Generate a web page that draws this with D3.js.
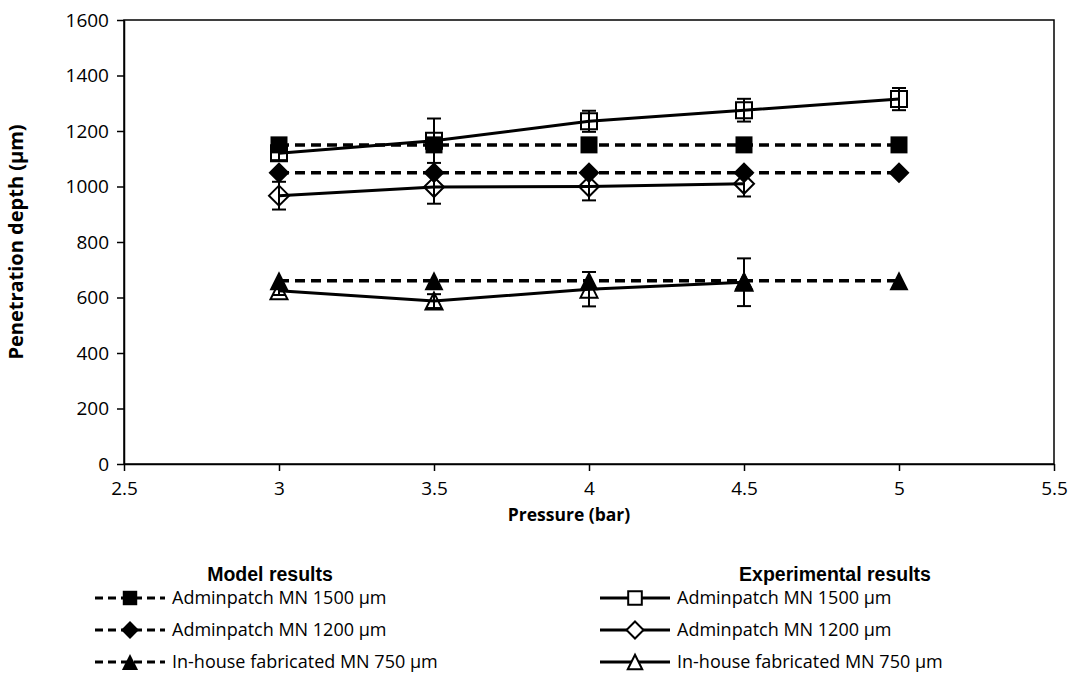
<!DOCTYPE html>
<html>
<head>
<meta charset="utf-8">
<script src="https://cdn.jsdelivr.net/npm/d3@7"></script>
<style>
  body { margin: 0; background: #fff; }
  text { font-family: "Open Sans", "Liberation Sans", sans-serif; fill: #000; }
</style>
</head>
<body>
<script>
// pressure values (bar)
var pressure = [3, 3.5, 4, 4.5, 5];

// model predictions (µm)
var model1500 = [1150, 1150, 1150, 1150, 1150];
var model1200 = [1050, 1050, 1050, 1050, 1050];
var model750 = [660, 660, 660, 660, 660];

// experimental means and error (µm)
var exp1500 = [1120, 1165, 1235, 1275, 1315];
var err1500 = [25, 80, 38, 41, 40];
var exp1200 = [967, 998, 1000, 1010];
var err1200 = [50, 60, 50, 46];
var exp750 = [624, 587, 630, 655];
var err750 = [15, 25, 62, 86];

var xTicks = [2.5, 3, 3.5, 4, 4.5, 5, 5.5];
var yTicks = [0, 200, 400, 600, 800, 1000, 1200, 1400, 1600];

var legendNames = ["Adminpatch MN 1500 µm", "Adminpatch MN 1200 µm", "In-house fabricated MN 750 µm"];

function main() {
  var W = 1072, H = 677;
  var left = 124, right = 1054, top = 20, bottom = 464;

  var svg = d3.select("body").append("svg")
    .attr("width", W).attr("height", H);

  var xScale = d3.scaleLinear().domain([2.5, 5.5]).range([left, right]);
  var yScale = d3.scaleLinear().domain([0, 1600]).range([bottom, top]);

  // marker shapes
  function square(s) { var h = s / 2; return "M" + -h + "," + -h + "H" + h + "V" + h + "H" + -h + "Z"; }
  function diamond(s) { var h = s / 2; return "M0," + -h + "L" + h + ",0L0," + h + "L" + -h + ",0Z"; }
  function triangle(s) { var h = s / 2; return "M0," + -h + "L" + h + "," + h + "H" + -h + "Z"; }

  // plot frame
  svg.append("rect")
    .attr("x", left).attr("y", top)
    .attr("width", right - left).attr("height", bottom - top)
    .attr("fill", "none").attr("stroke", "#000").attr("stroke-width", 1.5);

  // axes
  var yAxis = svg.append("g")
    .attr("transform", "translate(" + left + ",0)")
    .call(d3.axisLeft(yScale).tickValues(yTicks).tickSize(7).tickSizeOuter(0).tickPadding(8)
      .tickFormat(d3.format("d")));
  var xAxis = svg.append("g")
    .attr("transform", "translate(0," + bottom + ")")
    .call(d3.axisBottom(xScale).tickValues(xTicks).tickSize(7).tickSizeOuter(0).tickPadding(8)
      .tickFormat(function(d) { return String(d); }));
  [xAxis, yAxis].forEach(function(g) {
    g.selectAll("path, line").attr("stroke", "#000").attr("stroke-width", 1.5);
    g.selectAll("text")
      .style("font-family", "'Open Sans'")
      .style("font-size", "19px")
      .attr("fill", "#000");
  });
  xAxis.selectAll("text").attr("dy", "0.85em");

  // axis titles
  svg.append("text")
    .attr("transform", "translate(23," + ((top + bottom) / 2) + ") rotate(-90)")
    .attr("text-anchor", "middle")
    .style("font-size", "20px").attr("font-weight", "bold")
    .text("Penetration depth (µm)");
  svg.append("text")
    .attr("x", 569).attr("y", 521)
    .attr("text-anchor", "middle")
    .style("font-size", "17.5px").attr("font-weight", "bold")
    .text("Pressure (bar)");

  var line = d3.line()
    .x(function(d) { return xScale(d[0]); })
    .y(function(d) { return yScale(d[1]); });

  var modelSeries = [
    { vals: model1500, shape: square, size: 17 },
    { vals: model1200, shape: diamond, size: 21 },
    { vals: model750, shape: triangle, size: 19 }
  ];
  var expSeries = [
    { vals: exp1500, err: err1500, shape: square, size: 16 },
    { vals: exp1200, err: err1200, shape: diamond, size: 20 },
    { vals: exp750, err: err750, shape: triangle, size: 17 }
  ];

  // experimental: solid lines, open markers
  expSeries.forEach(function(s) {
    var pts = s.vals.map(function(v, i) { return [pressure[i], v, s.err[i]]; });
    svg.append("path").datum(pts)
      .attr("d", line).attr("fill", "none")
      .attr("stroke", "#000").attr("stroke-width", 3);
    svg.selectAll(null).data(pts).enter().append("path")
      .attr("transform", function(d) { return "translate(" + xScale(d[0]) + "," + yScale(d[1]) + ")"; })
      .attr("d", s.shape(s.size))
      .attr("fill", "none").attr("stroke", "#000").attr("stroke-width", 2);
  });

  // model: dashed lines, filled markers
  modelSeries.forEach(function(s) {
    var pts = s.vals.map(function(v, i) { return [pressure[i], v]; });
    svg.append("path").datum(pts)
      .attr("d", line).attr("fill", "none")
      .attr("stroke", "#000").attr("stroke-width", 3.5)
      .attr("stroke-dasharray", "10,6");
    svg.selectAll(null).data(pts).enter().append("path")
      .attr("transform", function(d) { return "translate(" + xScale(d[0]) + "," + yScale(d[1]) + ")"; })
      .attr("d", s.shape(s.size))
      .attr("fill", "#000");
  });

  // error bars on top
  expSeries.forEach(function(s) {
    var pts = s.vals.map(function(v, i) { return [pressure[i], v, s.err[i]]; });
    var g = svg.append("g").attr("stroke", "#000").attr("stroke-width", 2);
    pts.forEach(function(d) {
      var cx = xScale(d[0]);
      var y1 = yScale(d[1] + d[2]), y2 = yScale(d[1] - d[2]);
      g.append("line").attr("x1", cx).attr("x2", cx).attr("y1", y1).attr("y2", y2);
      g.append("line").attr("x1", cx - 7).attr("x2", cx + 7).attr("y1", y1).attr("y2", y1);
      g.append("line").attr("x1", cx - 7).attr("x2", cx + 7).attr("y1", y2).attr("y2", y2);
    });
  });

  // legend
  var legendRows = [598, 630, 662];
  var headers = [{ x: 270, text: "Model results" }, { x: 835, text: "Experimental results" }];
  headers.forEach(function(h) {
    svg.append("text")
      .attr("x", h.x).attr("y", 581)
      .attr("text-anchor", "middle")
      .style("font-family", "'Liberation Sans'")
      .style("font-size", "19.5px").attr("font-weight", "bold")
      .text(h.text);
  });

  function legendColumn(series, x0, dashed, filled) {
    series.forEach(function(s, i) {
      var yy = legendRows[i];
      svg.append("line")
        .attr("x1", x0).attr("x2", x0 + 70).attr("y1", yy).attr("y2", yy)
        .attr("stroke", "#000").attr("stroke-width", 3)
        .attr("stroke-dasharray", dashed ? "8,5" : null);
      svg.append("path")
        .attr("transform", "translate(" + (x0 + 35) + "," + yy + ")")
        .attr("d", s.shape(s.size * 0.85))
        .attr("fill", filled ? "#000" : "#fff")
        .attr("stroke", "#000").attr("stroke-width", filled ? 0 : 2);
      svg.append("text")
        .attr("x", x0 + 77).attr("y", yy)
        .attr("dy", "0.35em")
        .style("font-size", "18px")
        .text(legendNames[i]);
    });
  }
  legendColumn(modelSeries, 95, true, true);
  legendColumn(expSeries, 600, false, false);
}
main();
</script>
</body>
</html>
